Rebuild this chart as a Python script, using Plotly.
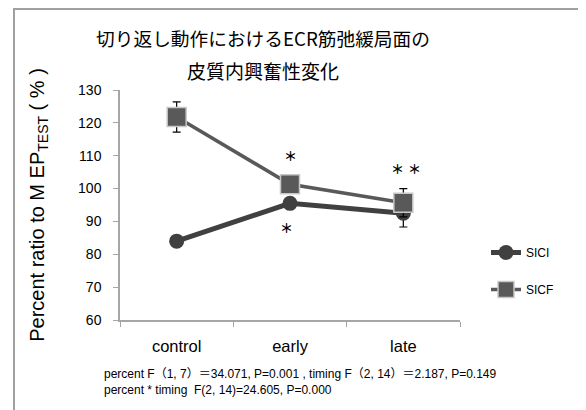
import plotly.graph_objects as go

categories = ["control", "early", "late"]
sici = [84.0, 95.5, 92.5]
sici_err = [1.5, 1.0, 4.2]
sicf = [121.8, 101.3, 95.7]
sicf_err = [4.6, 1.5, 4.3]
y_ticks = [60, 70, 80, 90, 100, 110, 120, 130]

title_line1 = "切り返し動作におけるECR筋弛緩局面の"
title_line2 = "皮質内興奮性変化"
stats_text = ("percent F（1, 7）＝34.071, P=0.001 , timing F（2, 14）＝2.187, P=0.149<br>"
              "percent * timing  F(2, 14)=24.605, P=0.000")

W, H = 586, 410
OFF = 8  # page body margin offset in the browser
# target screen positions of the plot area
X0, X1, Y0, Y1 = 120, 460, 90, 320
L, T = X0 - OFF, Y0 - OFF
R, B = W - (X1 - OFF), H - (Y1 - OFF)
pw, ph = X1 - X0, Y1 - Y0

def px_x(p):
    return (p - X0) / pw

def px_y(p):
    return (Y1 - p) / ph

fig = go.Figure()
fig.add_trace(go.Scatter(
    x=categories, y=sici, name="SICI", mode="lines+markers",
    line=dict(color="#404040", width=5),
    marker=dict(symbol="circle", size=15, color="#404040"),
    error_y=dict(type="data", array=sici_err, color="black", thickness=1.2, width=4),
    legendgroup="a",
))
fig.add_trace(go.Scatter(
    x=categories, y=sicf, name="SICF", mode="lines+markers",
    line=dict(color="#595959", width=3.5),
    marker=dict(symbol="square", size=19, color="#595959",
                line=dict(color="#c8c8c8", width=1.5)),
    error_y=dict(type="data", array=sicf_err, color="black", thickness=1.2, width=4),
    legendgroup="b",
))

ann = []
star_font = dict(family="Noto Sans CJK JP", size=13, color="black")
for xv, yv in [(1.0, 110), (0.97, 88.2), (1.945, 106), (2.1, 106)]:
    ann.append(dict(x=xv, y=yv, xref="x", yref="y", text="<b>＊</b>", showarrow=False,
                    font=star_font))
ann.append(dict(x=px_x(102), y=px_y(382), xref="paper", yref="paper",
                xanchor="left", yanchor="middle", align="left", showarrow=False,
                text=stats_text,
                font=dict(family="Liberation Sans, Noto Sans CJK JP", size=12,
                          color="black")))
ann.append(dict(x=px_x(263), y=px_y(70), xref="paper", yref="paper",
                xanchor="center", yanchor="middle", showarrow=False,
                text=title_line2,
                font=dict(family="Noto Sans CJK JP", size=19, color="black")))

fig.update_layout(
    width=W, height=H,
    margin=dict(l=L, r=R, t=T, b=B, autoexpand=False),
    paper_bgcolor="white", plot_bgcolor="white",
    title=dict(text=title_line1, x=px_x(263), xref="paper", xanchor="center",
               y=1 - (39 - OFF) / H, yanchor="middle",
               font=dict(family="Noto Sans CJK JP", size=18.7, color="black")),
    xaxis=dict(type="category", range=[-0.5, 2.5], showline=True,
               linecolor="#a6a6a6", linewidth=1.5, ticks="outside",
               tickson="boundaries", ticklen=5, tickcolor="#a6a6a6",
               ticklabelstandoff=10, automargin=False,
               tickfont=dict(family="Liberation Sans", size=16.5, color="black"),
               showgrid=False, zeroline=False),
    yaxis=dict(range=[60, 130], tickvals=y_ticks, showline=True,
               linecolor="#a6a6a6", linewidth=1.5, ticks="outside", ticklen=5,
               tickcolor="#a6a6a6", showgrid=False, zeroline=False,
               ticklabelstandoff=9, automargin=False,
               tickfont=dict(family="Liberation Sans", size=14, color="black"),
               title=dict(text="Percent ratio to M EP<sub>TEST</sub> ( % )",
                          font=dict(family="Liberation Sans, Noto Sans CJK JP",
                                    size=20, color="black"),
                          standoff=28)),
    legend=dict(x=px_x(486), y=px_y(238), xanchor="left", yanchor="top",
                font=dict(family="Liberation Sans", size=12, color="black"),
                bgcolor="rgba(0,0,0,0)", tracegroupgap=18),
    annotations=ann,
    shapes=[dict(type="rect", xref="paper", yref="paper",
                 x0=px_x(14), x1=px_x(620), y0=px_y(9), y1=px_y(440),
                 line=dict(color="#a0a0a0", width=2), layer="below")],
)

fig.write_html("out.html")
